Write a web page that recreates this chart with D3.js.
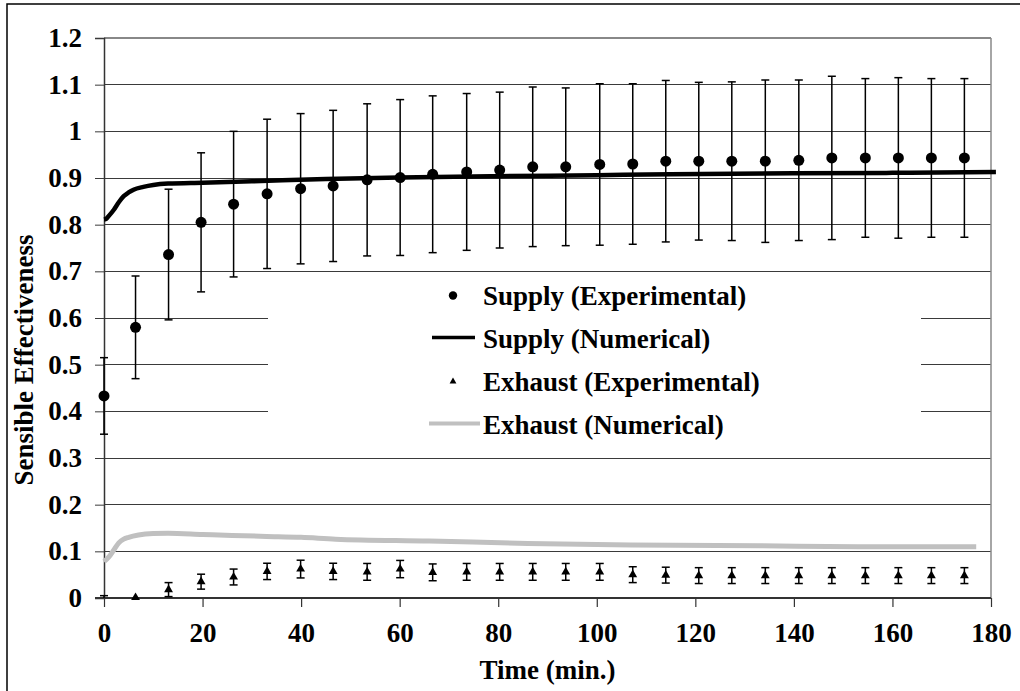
<!DOCTYPE html>
<html>
<head>
<meta charset="utf-8">
<script src="https://cdn.jsdelivr.net/npm/d3@7"></script>
<style>
  html, body { margin: 0; padding: 0; background: #fff; }
  svg { display: block; }
  text { font-family: "Liberation Serif", "Times New Roman", serif; font-weight: bold; fill: #000; }
</style>
</head>
<body>
<svg id="chart" width="1020" height="691"></svg>
<script>
// Sampling times of the measurements (min)
const sampleTimes = [0, 6.4, 13.1, 19.7, 26.3, 33.1, 39.9, 46.5, 53.4, 60.1, 66.7, 73.6, 80.3, 87.0, 93.7,
  100.6, 107.3, 114.0, 120.7, 127.4, 134.2, 141.0, 147.7, 154.5, 161.2, 167.9, 174.6];

// Supply side, measured effectiveness and its uncertainty (±)
const supplyExp = [0.433, 0.580, 0.736, 0.805, 0.844, 0.866, 0.877, 0.883, 0.896, 0.901, 0.908, 0.913, 0.917, 0.924, 0.924,
  0.929, 0.930, 0.936, 0.936, 0.936, 0.936, 0.938, 0.943, 0.943, 0.943, 0.943, 0.943];
const supplyErr = [0.082, 0.110, 0.140, 0.149, 0.156, 0.160, 0.161, 0.162, 0.163, 0.167, 0.168, 0.168, 0.167, 0.171, 0.169,
  0.173, 0.172, 0.173, 0.169, 0.170, 0.174, 0.172, 0.175, 0.170, 0.172, 0.170, 0.170];

// Exhaust side, measured effectiveness and its uncertainty (±)
const exhaustExp = [-0.012, 0.001, 0.018, 0.035, 0.045, 0.057, 0.062, 0.057, 0.056, 0.062, 0.055, 0.056, 0.056, 0.056, 0.056,
  0.056, 0.050, 0.049, 0.048, 0.048, 0.048, 0.048, 0.048, 0.048, 0.048, 0.048, 0.048];
const exhaustErr = [0.017, 0.000, 0.015, 0.016, 0.017, 0.0175, 0.019, 0.0175, 0.018, 0.0185, 0.018, 0.018, 0.018, 0.018, 0.018,
  0.018, 0.017, 0.017, 0.017, 0.017, 0.017, 0.017, 0.017, 0.017, 0.017, 0.017, 0.017];

// Simulation output, supply side
const supplyNumT = [0, 0.5, 1, 2, 3, 4, 5, 6, 8, 10, 13, 20, 30, 45, 60, 80, 100, 115, 140, 160, 181];
const supplyNumV = [0.811, 0.813, 0.819, 0.832, 0.848, 0.861, 0.869, 0.875, 0.881, 0.885, 0.888, 0.890, 0.893, 0.898, 0.901,
  0.904, 0.906, 0.908, 0.910, 0.911, 0.913];

// Simulation output, exhaust side
const exhaustNumT = [0, 1, 2, 3, 4, 5, 7, 10, 13, 20, 26, 33, 40, 47, 66, 86, 107, 133, 153, 177];
const exhaustNumV = [0.078, 0.088, 0.103, 0.118, 0.126, 0.130, 0.135, 0.138, 0.1385, 0.136, 0.134, 0.132, 0.130, 0.126, 0.122,
  0.117, 0.1136, 0.112, 0.110, 0.110];

// Axis ticks and text
const xTicks = [0, 20, 40, 60, 80, 100, 120, 140, 160, 180];
const yTicks = [0, 0.1, 0.2, 0.3, 0.4, 0.5, 0.6, 0.7, 0.8, 0.9, 1.0, 1.1, 1.2];
const yTickLabels = ["0", "0.1", "0.2", "0.3", "0.4", "0.5", "0.6", "0.7", "0.8", "0.9", "1", "1.1", "1.2"];
const xTitle = "Time (min.)";
const yTitle = "Sensible Effectiveness";
const legendLabels = ["Supply (Experimental)", "Supply (Numerical)", "Exhaust (Experimental)", "Exhaust (Numerical)"];

const svg = d3.select("#chart");
const W = 1020, H = 691;
const plot = { left: 104, right: 991, top: 38, bottom: 598 };

const x = d3.scaleLinear().domain([0, 180]).range([plot.left, plot.right]);
const y = d3.scaleLinear().domain([0, 1.2]).range([plot.bottom, plot.top]);

svg.append("rect").attr("width", W).attr("height", H).attr("fill", "#fff");
// outer chart frame
svg.append("rect").attr("x", 7).attr("y", 4).attr("width", W + 20).attr("height", H + 20)
  .attr("fill", "none").attr("stroke", "#000").attr("stroke-width", 1.5);

// error bars are cut off at the value axis limits only
svg.append("defs").append("clipPath").attr("id", "plotClip")
  .append("rect").attr("x", plot.left - 12).attr("y", plot.top)
  .attr("width", plot.right - plot.left + 24).attr("height", plot.bottom - plot.top);

// horizontal gridlines
svg.append("g").selectAll("line").data(yTicks.filter(v => v > 0)).join("line")
  .attr("x1", plot.left).attr("x2", plot.right)
  .attr("y1", d => y(d)).attr("y2", d => y(d))
  .attr("stroke", d => d === 1.2 ? "#888" : "#3a3a3a").attr("stroke-width", d => d === 1.2 ? 1.5 : 1)
  .attr("shape-rendering", "crispEdges");

// plot area right border
svg.append("line").attr("x1", plot.right).attr("x2", plot.right).attr("y1", plot.top).attr("y2", plot.bottom)
  .attr("stroke", "#888").attr("stroke-width", 1.5);

// legend background (hides gridlines behind it)
const legend = svg.append("g");
legend.append("rect").attr("x", 268).attr("y", 273).attr("width", 921 - 268).attr("height", 456 - 273).attr("fill", "#fff");

// y axis
const yAxis = svg.append("g").attr("transform", `translate(${plot.left},0)`)
  .call(d3.axisLeft(y).tickValues(yTicks).tickSize(9).tickPadding(13)
    .tickFormat((d, i) => yTickLabels[i]));
yAxis.select(".domain").attr("stroke", "#333").attr("stroke-width", 1.5);
yAxis.selectAll(".tick line").attr("stroke", "#3a3a3a");
yAxis.selectAll("text").style("font-size", "27px").attr("fill", "#000");

// x axis
const xAxis = svg.append("g").attr("transform", `translate(0,${plot.bottom})`)
  .call(d3.axisBottom(x).tickValues(xTicks).tickSize(9).tickSizeOuter(0).tickPadding(16).tickFormat(d3.format("d")));
xAxis.select(".domain").attr("stroke", "#333").attr("stroke-width", 2)
  .attr("d", `M${plot.left - 9},0H${plot.right}`);
xAxis.selectAll(".tick line").attr("stroke", "#333").attr("stroke-width", 1.2);
xAxis.selectAll("text").style("font-size", "27px").attr("fill", "#000");

// axis titles
svg.append("text").attr("x", (plot.left + plot.right) / 2).attr("y", 679)
  .attr("text-anchor", "middle").style("font-size", "27px").text(xTitle);
svg.append("text").attr("transform", `translate(33,${360}) rotate(-90)`)
  .attr("text-anchor", "middle").style("font-size", "27px").text(yTitle);

// numerical curves
const line = d3.line().x(d => x(d[0])).y(d => y(d[1])).curve(d3.curveMonotoneX);
svg.append("path").datum(d3.zip(exhaustNumT, exhaustNumV)).attr("d", line)
  .attr("fill", "none").attr("stroke", "#c0c0c0").attr("stroke-width", 5);
svg.append("path").datum(d3.zip(supplyNumT, supplyNumV)).attr("d", line)
  .attr("fill", "none").attr("stroke", "#000").attr("stroke-width", 4.5);

// error bars
function errorBars(g, vals, errs) {
  const rows = sampleTimes.map((t, i) => ({ t, v: vals[i], e: errs[i] })).filter(d => d.e > 0);
  const eb = g.selectAll("g").data(rows).join("g").attr("stroke", "#000").attr("stroke-width", 1.5);
  eb.append("line").attr("x1", d => x(d.t)).attr("x2", d => x(d.t))
    .attr("y1", d => y(d.v - d.e)).attr("y2", d => y(d.v + d.e));
  eb.append("line").attr("x1", d => x(d.t) - 4).attr("x2", d => x(d.t) + 4)
    .attr("y1", d => y(d.v + d.e)).attr("y2", d => y(d.v + d.e));
  eb.append("line").attr("x1", d => x(d.t) - 4).attr("x2", d => x(d.t) + 4)
    .attr("y1", d => y(d.v - d.e)).attr("y2", d => y(d.v - d.e));
}
errorBars(svg.append("g").attr("clip-path", "url(#plotClip)"), supplyExp, supplyErr);
errorBars(svg.append("g").attr("clip-path", "url(#plotClip)"), exhaustExp, exhaustErr);

// experimental markers (points below the axis are not drawn)
svg.append("g").selectAll("circle").data(d3.zip(sampleTimes, supplyExp)).join("circle")
  .attr("cx", d => x(d[0])).attr("cy", d => y(d[1])).attr("r", 5.5).attr("fill", "#000");
const tri = d3.symbol().type(d3.symbolTriangle).size(34);
svg.append("g").selectAll("path").data(d3.zip(sampleTimes, exhaustExp).filter(d => d[1] >= 0)).join("path")
  .attr("transform", d => `translate(${x(d[0])},${y(d[1])})`).attr("d", tri).attr("fill", "#000");

// legend entries
const lgX = 453, lgTextX = 483, lgY0 = 295.5, lgStep = 43;
legend.append("circle").attr("cx", lgX).attr("cy", lgY0).attr("r", 4.2).attr("fill", "#000");
legend.append("line").attr("x1", 432).attr("x2", 475).attr("y1", lgY0 + lgStep - 1).attr("y2", lgY0 + lgStep - 1)
  .attr("stroke", "#000").attr("stroke-width", 3.5);
legend.append("path").attr("transform", `translate(${lgX},${lgY0 + 2 * lgStep})`)
  .attr("d", d3.symbol().type(d3.symbolTriangle).size(20)).attr("fill", "#000");
legend.append("line").attr("x1", 429).attr("x2", 480).attr("y1", lgY0 + 3 * lgStep - 1).attr("y2", lgY0 + 3 * lgStep - 1)
  .attr("stroke", "#c0c0c0").attr("stroke-width", 4);
legend.selectAll("text").data(legendLabels).join("text")
  .attr("x", lgTextX).attr("y", (d, i) => lgY0 + i * lgStep + 9)
  .style("font-size", "27px").text(d => d);
</script>
</body>
</html>
